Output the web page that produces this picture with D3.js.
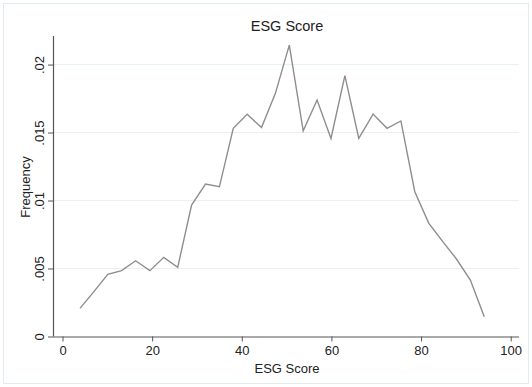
<!DOCTYPE html>
<html>
<head>
<meta charset="utf-8">
<script src="https://cdn.jsdelivr.net/npm/d3@7"></script>
<style>
  html, body { margin: 0; padding: 0; background: #ffffff; }
  svg { display: block; font-family: "Liberation Sans", Arial, sans-serif; }
</style>
</head>
<body>
<svg id="chart" width="532" height="387"></svg>
<script>
// Data (bin midpoints of ESG Score and frequency density)
const esgScore = [3.9, 7.0, 10.1, 13.2, 16.3, 19.5, 22.6, 25.7, 28.8, 31.9,
                  35.0, 38.1, 41.2, 44.4, 47.5, 50.6, 53.7, 56.8, 59.9, 63.0,
                  66.1, 69.3, 72.4, 75.5, 78.6, 81.7, 84.8, 87.9, 91.0, 94.1];
const frequency = [0.00207, 0.0033, 0.00457, 0.00484, 0.00557, 0.00484, 0.00582, 0.00509, 0.00967, 0.01121,
                   0.01101, 0.01531, 0.01634, 0.01537, 0.01788, 0.02143, 0.01513, 0.01739, 0.01457, 0.01918,
                   0.01457, 0.01636, 0.01531, 0.01585, 0.01065, 0.00834, 0.00700, 0.00570, 0.00415, 0.00146];
const xTicks = [0, 20, 40, 60, 80, 100];
const yTicks = [0, 0.005, 0.01, 0.015, 0.02];
const yTickLabels = ["0", ".005", ".01", ".015", ".02"];
const titleText = "ESG Score";
const xTitle = "ESG Score";
const yTitle = "Frequency";

(function () {
const svg = d3.select("#chart");
const pLeft = 54, pRight = 519, pTop = 36, pBottom = 336.5;

const x = d3.scaleLinear().domain([-1.9, 101.85]).range([pLeft, pRight]);
const y = d3.scaleLinear().domain([0, 0.0221]).range([pBottom, pTop]);

// outer frame
svg.append("rect").attr("x", 3.5).attr("y", 3.5).attr("width", 525).attr("height", 380)
  .attr("fill", "#ffffff").attr("stroke", "#e2ebf0").attr("stroke-width", 1);

// gridlines
svg.append("g").selectAll("line").data(yTicks.filter(d => d > 0)).join("line")
  .attr("x1", pLeft).attr("x2", pRight)
  .attr("y1", d => y(d)).attr("y2", d => y(d))
  .attr("stroke", "#e8f0f1").attr("stroke-width", 1);

// line
const line = d3.line().x((d, i) => x(esgScore[i])).y(d => y(d));
svg.append("path").datum(frequency)
  .attr("d", line)
  .attr("fill", "none")
  .attr("stroke", "#8e8e8e")
  .attr("stroke-width", 1.4)
  .attr("stroke-linejoin", "miter");

// x axis
const xAxis = d3.axisBottom(x).tickValues(xTicks).tickSize(5).tickPadding(4).tickFormat(d3.format("d"));
const gx = svg.append("g").attr("transform", `translate(0,${pBottom})`).call(xAxis);
gx.select(".domain").attr("d", `M${pLeft},0.5H${pRight}`).attr("stroke", "#555").attr("stroke-width", 1.2);
gx.selectAll(".tick line").attr("stroke", "#555");
gx.selectAll(".tick text").attr("font-size", 13).attr("fill", "#222")
  .attr("font-family", "Liberation Sans, Arial, sans-serif");

// y axis
const yAxis = d3.axisLeft(y).tickValues(yTicks).tickSize(6).tickFormat((d, i) => yTickLabels[i]);
const gy = svg.append("g").attr("transform", `translate(${pLeft},0)`).call(yAxis);
gy.select(".domain").attr("d", `M-0.5,${pTop}V${pBottom}`).attr("stroke", "#555").attr("stroke-width", 1.2);
gy.selectAll(".tick line").attr("stroke", "#555");
gy.selectAll(".tick text")
  .attr("font-size", 13).attr("fill", "#222")
  .attr("font-family", "Liberation Sans, Arial, sans-serif")
  .attr("x", 0).attr("dy", null)
  .attr("text-anchor", "middle")
  .attr("dominant-baseline", "central")
  .attr("transform", "translate(-15,0) rotate(-90)");

// titles
svg.append("text").attr("x", 287).attr("y", 31).attr("text-anchor", "middle")
  .attr("font-size", 14.5).attr("fill", "#222").text(titleText);
svg.append("text").attr("x", 287).attr("y", 373).attr("text-anchor", "middle")
  .attr("font-size", 13).attr("fill", "#222").text(xTitle);
svg.append("text").attr("transform", `translate(30,187) rotate(-90)`).attr("text-anchor", "middle")
  .attr("font-size", 13).attr("fill", "#222").text(yTitle);
})();
</script>
</body>
</html>
